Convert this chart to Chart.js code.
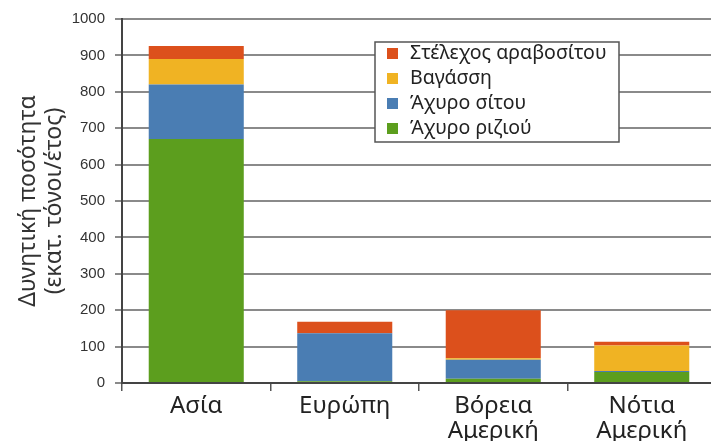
<!DOCTYPE html>
<html>
<head>
<meta charset="utf-8">
<script src="https://cdn.jsdelivr.net/npm/chart.js@4/dist/chart.umd.min.js"></script>
<style>
  html, body { margin: 0; padding: 0; background: #fff; overflow: hidden; }
  #clip { width: 711px; height: 441px; overflow: hidden; }
  #wrap { width: 716px; height: 441px; }
</style>
</head>
<body>
<div id="clip"><div id="wrap"><canvas id="chart"></canvas></div></div>
<script>
// περιοχές και ποσότητες υπολειμμάτων (εκατ. τόνοι/έτος)
const regions = ['Ασία', 'Ευρώπη', ['Βόρεια', 'Αμερική'], ['Νότια', 'Αμερική']];
const riceStraw = [670, 5, 12, 30];
const wheatStraw = [150, 132, 52, 3];
const bagasse = [70, 0, 4, 70];
const cornStover = [36, 31, 132, 10];
const yTicks = [0, 100, 200, 300, 400, 500, 600, 700, 800, 900, 1000];

const SANS = 'Liberation Sans, Arial, sans-serif';
const WIDE = '"Noto Sans", sans-serif';

// υπόμνημα μέσα στην περιοχή του γραφήματος, με αντίστροφη σειρά
const boxLegend = {
  id: 'boxLegend',
  afterDraw(chart) {
    const ctx = chart.ctx;
    const x = 375, y = 42, w = 244, h = 100;
    ctx.save();
    ctx.fillStyle = '#fff';
    ctx.fillRect(x, y, w, h);
    ctx.strokeStyle = '#555';
    ctx.lineWidth = 1.5;
    ctx.strokeRect(x, y, w, h);
    ctx.font = '19.5px ' + WIDE;
    ctx.textBaseline = 'middle';
    const sets = chart.data.datasets.slice().reverse();
    sets.forEach((ds, i) => {
      const cy = y + 11 + i * 25;
      ctx.fillStyle = ds.backgroundColor;
      ctx.fillRect(x + 12, cy - 5, 11, 11);
      ctx.fillStyle = '#222';
      ctx.fillText(ds.label, x + 35, cy);
    });
    ctx.restore();
  }
};

new Chart(document.getElementById('chart'), {
  type: 'bar',
  data: {
    labels: regions,
    datasets: [
      { label: 'Άχυρο ριζιού', data: riceStraw, backgroundColor: '#5c9e1e' },
      { label: 'Άχυρο σίτου', data: wheatStraw, backgroundColor: '#4a7db3' },
      { label: 'Βαγάσση', data: bagasse, backgroundColor: '#f0b323' },
      { label: 'Στέλεχος αραβοσίτου', data: cornStover, backgroundColor: '#dc501c' }
    ]
  },
  options: {
    responsive: true,
    maintainAspectRatio: false,
    animation: false,
    layout: { padding: { top: 19, right: 0, left: 0, bottom: 0 } },
    datasets: { bar: { categoryPercentage: 0.64, barPercentage: 1 } },
    plugins: { legend: { display: false }, tooltip: { enabled: false } },
    scales: {
      x: {
        stacked: true,
        afterFit: s => { s.height = 58; },
        grid: { offset: true, drawOnChartArea: false, color: '#555', tickLength: 8, lineWidth: 1.5 },
        border: { color: '#444', width: 2 },
        ticks: { color: '#222', font: { family: WIDE, size: 24, lineHeight: 1.02 }, padding: 3 }
      },
      y: {
        stacked: true,
        min: 0,
        max: 1000,
        afterBuildTicks: s => { s.ticks = yTicks.map(v => ({ value: v })); },
        afterFit: s => { s.width = 122; },
        grid: { color: '#8a8a8a', lineWidth: 2, tickLength: 7 },
        border: { color: '#444', width: 2 },
        ticks: { color: '#333', font: { family: SANS, size: 15 }, padding: 10, callback: v => String(v) },
        title: {
          display: true,
          text: ['Δυνητική ποσότητα', '(εκατ. τόνοι/έτος)'],
          color: '#333',
          font: { family: WIDE, size: 23, lineHeight: 1.15 },
          padding: { top: 15, bottom: 4 }
        }
      }
    }
  },
  plugins: [boxLegend]
});
</script>
</body>
</html>
